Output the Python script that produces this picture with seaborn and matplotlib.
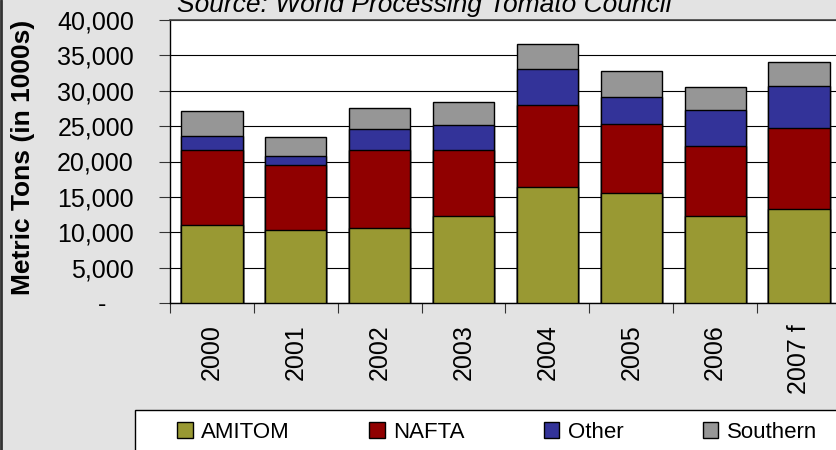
import matplotlib
matplotlib.use("Agg")
import matplotlib.pyplot as plt
import seaborn as sns
import pandas as pd
import numpy as np
from matplotlib.patches import Patch, Rectangle
from matplotlib.lines import Line2D

# ---- data ----
years = ['2000', '2001', '2002', '2003', '2004', '2005', '2006', '2007 f']
amitom = [11050, 10380, 10570, 12240, 16380, 15480, 12240, 13330]
nafta = [10600, 9100, 11080, 9320, 11540, 9760, 10020, 11430]
other = [1980, 1280, 2880, 3630, 5220, 3820, 5050, 5850]
southern = [3450, 2680, 2970, 3250, 3480, 3700, 3160, 3490]
series_names = ['AMITOM', 'NAFTA', 'Other', 'Southern']
y_ticks = [0, 5000, 10000, 15000, 20000, 25000, 30000, 35000, 40000]
y_tick_labels = ['-    ', '5,000', '10,000', '15,000', '20,000', '25,000', '30,000', '35,000', '40,000']
title = 'Source: World Processing Tomato Council'
y_title = 'Metric Tons (in 1000s)'

colors = ['#999933', '#900000', '#333399', '#969696']
bg = '#e3e3e3'

sns.set_theme(style='white')
plt.rcParams['font.family'] = ['Liberation Sans', 'DejaVu Sans']
plt.rcParams['text.color'] = 'black'
plt.rcParams['xtick.color'] = 'black'
plt.rcParams['ytick.color'] = 'black'
plt.rcParams['axes.labelcolor'] = 'black'

W, H = 837, 450
fig = plt.figure(figsize=(W / 100, H / 100), dpi=100, facecolor=bg)
ax = fig.add_axes([170 / W, 1 - 303 / H, 671 / W, 283 / H])
ax.set_facecolor('white')

stack = np.cumsum(np.array([amitom, nafta, other, southern]), axis=0)
df = pd.DataFrame({'year': years})
for i, name in enumerate(series_names):
    df[name] = stack[i]

for i in reversed(range(len(series_names))):
    sns.barplot(data=df, x='year', y=series_names[i], color=colors[i], saturation=1,
                width=0.73, edgecolor='black', linewidth=1.0, ax=ax, zorder=3)

ax.set_xlim(-0.5, len(years) - 0.5)
ax.set_ylim(0, 40000)
ax.set_xlabel('')
ax.set_ylabel('')

ax.set_yticks(y_ticks)
ax.set_yticklabels(y_tick_labels, fontsize=18, color='black')
ax.yaxis.grid(True, color='black', linewidth=0.8, zorder=0)
ax.set_axisbelow(True)
ax.tick_params(axis='y', left=True, length=8, width=0.8, direction='out', pad=18,
               color='#333333', labelcolor='black')

ax.set_xticks(range(len(years)))
ax.set_xticklabels(years, rotation=90, fontsize=18, color='black')
ax.set_xticks(np.arange(-0.5, len(years) + 0.5, 1), minor=True)
ax.tick_params(axis='x', which='major', bottom=True, length=0, pad=15, labelcolor='black')
ax.tick_params(axis='x', which='minor', bottom=True, length=7, width=0.8, color='#333333')

for s in ['left', 'bottom']:
    ax.spines[s].set_color('black')
    ax.spines[s].set_linewidth(1.0)
ax.spines['top'].set_color('#444444')
ax.spines['top'].set_linewidth(1.2)
ax.spines['right'].set_visible(False)

# title and axis title
fig.text(424 / W, 1 - 12 / H, title, style='italic', fontsize=19, ha='center', va='baseline',
         color='black')
fig.text(23 / W, 1 - 157 / H, y_title, rotation=90, fontweight='bold', fontsize=19,
         ha='center', va='center', color='black')

# legend box
fig.patches.append(Rectangle((135 / W, -0.1), 1.0, (1 - 410 / H) + 0.1, transform=fig.transFigure,
                             facecolor='white', edgecolor='black', linewidth=1.0, zorder=1))
handles = [Patch(facecolor=c, edgecolor='black', linewidth=1.0, label=n) for c, n in zip(colors, series_names)]
leg = fig.legend(handles=handles, loc='center left', bbox_to_anchor=(177 / W, 1 - 432 / H), ncol=4,
                 frameon=False, fontsize=16, handlelength=0.7, handleheight=0.7, handletextpad=0.4,
                 columnspacing=3.55, borderpad=0, borderaxespad=0)
for t in leg.get_texts():
    t.set_color('black')

# chart border at left
fig.lines.append(Line2D([1 / W, 1 / W], [0, 1], transform=fig.transFigure, color='#333333', linewidth=2))

fig.savefig('out.png', dpi=100, facecolor=fig.get_facecolor())
